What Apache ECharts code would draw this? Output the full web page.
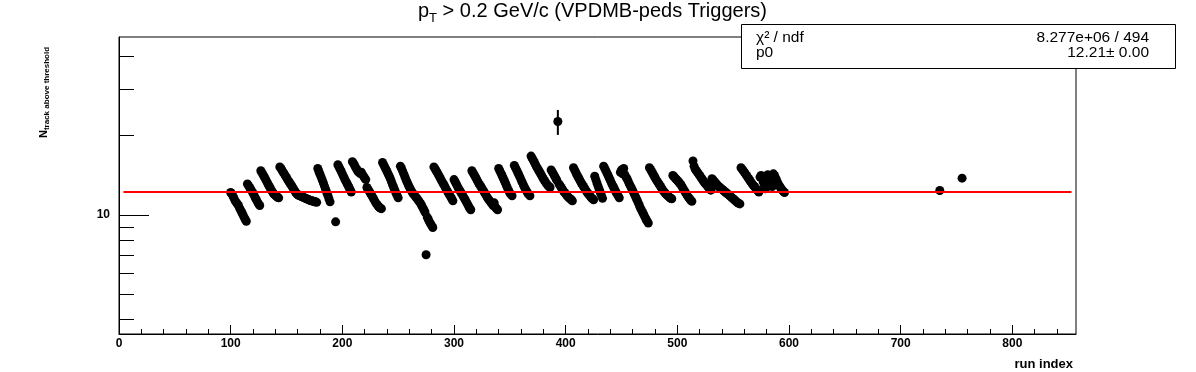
<!DOCTYPE html>
<html><head><meta charset="utf-8">
<script src="https://cdn.jsdelivr.net/npm/echarts@6/dist/echarts.min.js"></script>
<style>html,body{margin:0;padding:0;background:#fff}#c{width:1196px;height:372px}</style>
</head><body><div id="c"></div>
<script>
// ---- data ----
const runStart = 100; // nTrack[i] belongs to run index runStart + i
const nTrack = [
  // 100-114
  12.15, 12.0, 11.8, 11.55, 11.3, 11.15, 11.0, 10.85, 10.6, 10.4, 10.2, 10.0, 9.8, 9.6, 9.45,
  // 115-126
  13.1, 12.9, 12.7, 12.5, 12.3, 12.1, 11.85, 11.6, 11.4, 11.2, 11.0, 10.85,
  // 127-143
  14.7, 14.45, 14.2, 13.95, 13.7, 13.45, 13.2, 12.95, 12.75, 12.5, 12.3, 12.1, 11.95, 11.85, 11.75, 11.65, 11.6,
  // 144-160
  15.2, 15.0, 14.75, 14.5, 14.3, 14.05, 13.85, 13.6, 13.4, 13.2, 13.0, 12.8, 12.6, 12.4, 12.2, 12.05, 11.9,
  // 161-177
  11.85, 11.8, 11.75, 11.7, 11.65, 11.6, 11.55, 11.5, 11.45, 11.4, 11.35, 11.3, 11.3, 11.25, 11.2, 11.2, 11.15,
  // 178-189
  15.0, 14.6, 14.25, 13.9, 13.55, 13.2, 12.85, 12.5, 12.15, 11.85, 11.5, 11.2,
  // 190-195
  null, null, null, null, 9.4, null,
  // 196-208
  15.5, 15.2, 14.9, 14.6, 14.3, 14.0, 13.7, 13.45, 13.2, 12.95, 12.7, 12.45, 12.2,
  // 209-221
  15.9, 15.7, 15.4, 15.1, 14.85, 14.6, 14.5, 14.35, 14.5, 14.2, 14.0, 13.8, 13.6,
  // 222-235
  12.7, 12.5, 12.3, 12.1, 11.9, 11.7, 11.5, 11.3, 11.1, 10.95, 10.8, 10.7, 10.6, 10.55,
  // 236-250
  15.8, 15.5, 15.2, 14.9, 14.6, 14.3, 14.0, 13.7, 13.35, 13.0, 12.7, 12.4, 12.1, 11.85, 11.6,
  // 251
  null,
  // 252-281
  15.3, 15.0, 14.65, 14.3, 13.95, 13.6, 13.3, 13.0, 12.75, 12.5, 12.3, 12.1, 11.95, 11.8, 11.65,
  11.5, 11.35, 11.2, 11.05, 10.85, 10.65, 10.45, 10.25, 7.05, 9.8, 9.6, 9.4, 9.25, 9.1, 8.95,
  // 282-299
  15.2, 14.95, 14.7, 14.45, 14.2, 13.95, 13.7, 13.45, 13.2, 13.0, 12.75, 12.5, 12.3, 12.1, 11.9, 11.7, 11.5, 11.3,
  // 300-315
  13.6, 13.35, 13.1, 12.85, 12.6, 12.4, 12.2, 12.0, 11.8, 11.6, 11.4, 11.2, 11.0, 10.8, 10.6, 10.45,
  // 316-339
  14.7, 14.45, 14.2, 13.95, 13.7, 13.45, 13.2, 13.0, 12.8, 12.6, 12.4, 12.2, 12.0, 11.8, 11.6, 11.45,
  11.3, 11.15, 11.0, 10.85, 11.1, 10.7, 10.55, 10.45,
  // 340-352
  15.0, 14.7, 14.4, 14.1, 13.8, 13.5, 13.2, 12.9, 12.6, 12.35, 12.1, 11.95, 11.8,
  // 353
  null,
  // 354-368
  15.4, 15.1, 14.8, 14.5, 14.2, 13.9, 13.6, 13.3, 13.0, 12.75, 12.5, 12.3, 12.1, 11.95, 11.8,
  // 369-386
  16.7, 16.4, 16.1, 15.8, 15.5, 15.2, 14.95, 14.7, 14.45, 14.2, 13.95, 13.7, 13.5, 13.3, 13.1, 12.95, 12.8, 12.7,
  // 387-406
  14.8, 14.55, 14.3, 14.05, 13.8, 13.55, 22.6, 13.1, 12.9, 12.7, 12.5, 12.3, 12.15, 12.0, 11.85, 11.7, 11.6, 11.5, 11.4, 11.3,
  // 407-425
  15.1, 14.8, 14.5, 14.2, 13.95, 13.7, 13.45, 13.2, 13.0, 12.8, 12.6, 12.4, 12.2, 12.05, 11.9, 11.75, 11.6, 11.5, 11.4,
  // 426-433
  14.0, 13.6, 13.2, 12.85, 12.5, 12.15, 11.85, 11.55,
  // 434-448
  15.3, 15.0, 14.7, 14.4, 14.1, 13.8, 13.5, 13.2, 12.95, 12.7, 12.45, 12.2, 12.0, 11.8, 11.6,
  // 449-454
  14.5, 14.8, 14.3, 15.0, 14.2, 13.9,
  // 455-474
  13.7, 13.4, 13.1, 12.85, 12.6, 12.35, 12.1, 11.85, 11.6, 11.35, 11.1, 10.85, 10.6, 10.4, 10.2, 10.0, 9.8, 9.6, 9.45, 9.3,
  // 475-495
  15.1, 14.85, 14.6, 14.35, 14.1, 13.85, 13.6, 13.4, 13.2, 13.0, 12.8, 12.6, 12.4, 12.25, 12.1, 11.95, 11.85, 11.75, 11.65, 11.55, 11.5,
  // 496-513
  14.1, 13.95, 13.8, 13.65, 13.5, 13.35, 13.2, 13.05, 12.85, 12.6, 12.4, 12.2, 12.0, 11.8, 11.65, 11.5, 11.35, 11.25,
  // 514-530
  16.0, 15.3, 14.9, 14.7, 14.5, 14.3, 14.1, 13.9, 13.7, 13.5, 13.3, 13.15, 13.0, 12.85, 12.7, 12.55, 12.4,
  // 531-556
  13.7, 13.55, 13.4, 13.25, 13.1, 12.95, 12.8, 12.7, 12.6, 12.5, 12.4, 12.3, 12.2, 12.1, 12.0, 11.9, 11.8,
  11.7, 11.6, 11.5, 11.4, 11.3, 11.2, 11.1, 11.05, 11.0,
  // 557-573
  15.1, 14.9, 14.7, 14.5, 14.3, 14.1, 13.9, 13.7, 13.5, 13.3, 13.1, 12.95, 12.8, 12.65, 12.5, 12.35, 12.2,
  // 574-596
  13.9, 14.1, 13.7, 13.3, 12.9, 12.55, 13.9, 14.2, 13.9, 13.5, 13.1, 12.8, 14.3, 14.1, 13.8, 13.5, 13.2,
  12.95, 12.75, 12.55, 12.4, 12.25, 12.15
];
const extraRuns = [735, 755];
const extraVals = [12.36, 13.77];
const errRuns = [393];
const errLow = [20.1];
const errHigh = [25.0];
const fitP0 = 12.21;
const fitRange = [4, 853];
const xMajorTicks = [0, 100, 200, 300, 400, 500, 600, 700, 800];
const xMinorTicks = [20, 40, 60, 80, 120, 140, 160, 180, 220, 240, 260, 280, 320, 340, 360, 380,
  420, 440, 460, 480, 520, 540, 560, 580, 620, 640, 660, 680, 720, 740, 760, 780, 820, 840];
const yMajorTicks = [10];
const yMinorTicks = [4, 5, 6, 7, 8, 9, 20, 30, 40];
const statNames = ['\u03c7\u00b2 / ndf', 'p0'];
const statValues = ['8.277e+06 / 494', '12.21\u00b1 0.00'];

// ---- build ----
const pts = [];
nTrack.forEach((v, i) => { if (v !== null) pts.push([runStart + i, v]); });
extraRuns.forEach((r, i) => pts.push([r, extraVals[i]]));
const errData = [];
errRuns.forEach((r, i) => { errData.push([r, errLow[i]], [r, errHigh[i]], null); });

const FONT = "'Liberation Sans', Arial, Helvetica, sans-serif";
const X_MIN = 0, X_MAX = 857, Y_MIN = 3.528, Y_MAX = 47.3;

const chart = echarts.init(document.getElementById('c'), null, {renderer: 'canvas'});
chart.setOption({
  animation: false,
  backgroundColor: '#fff',
  title: {
    left: 418, top: 1, padding: 0,
    text: '{a|p}{b|T}{a| > 0.2 GeV/c (VPDMB-peds Triggers)}',
    textStyle: {
      fontWeight: 'normal',
      rich: {
        a: {fontSize: 20, fontWeight: 'normal', fontFamily: FONT, color: '#000', verticalAlign: 'top', lineHeight: 23},
        b: {fontSize: 13, fontWeight: 'normal', fontFamily: FONT, color: '#000', verticalAlign: 'top', lineHeight: 14, padding: [11, 0, 0, 0]}
      }
    }
  },
  grid: {left: 119, right: 120, top: 37, bottom: 38, show: true, borderColor: '#000', borderWidth: 1,
         containLabel: false, outerBoundsMode: 'none'},
  xAxis: [
    {type: 'value', min: X_MIN, max: X_MAX, position: 'bottom',
     axisLine: {show: true, onZero: false, lineStyle: {color: '#000', width: 1}},
     axisTick: {show: true, inside: true, length: 9, customValues: xMajorTicks, lineStyle: {color: '#000', width: 1}},
     axisLabel: {show: true, customValues: xMajorTicks, margin: 4, color: '#000', fontSize: 12, fontWeight: 'bold', fontFamily: FONT},
     splitLine: {show: false}},
    {type: 'value', min: X_MIN, max: X_MAX, position: 'bottom',
     axisLine: {show: false, onZero: false},
     axisTick: {show: true, inside: true, length: 5, customValues: xMinorTicks, lineStyle: {color: '#000', width: 1}},
     axisLabel: {show: false}, splitLine: {show: false}}
  ],
  yAxis: [
    {type: 'log', logBase: 10, min: Y_MIN, max: Y_MAX, position: 'left',
     axisLine: {show: true, onZero: false, lineStyle: {color: '#000', width: 1}},
     axisTick: {show: true, inside: true, length: 30, customValues: yMajorTicks, lineStyle: {color: '#000', width: 1}},
     axisLabel: {show: true, customValues: yMajorTicks, margin: 9, color: '#000', fontSize: 12, fontWeight: 'bold', fontFamily: FONT},
     splitLine: {show: false}},
    {type: 'log', logBase: 10, min: Y_MIN, max: Y_MAX, position: 'left',
     axisLine: {show: false, onZero: false},
     axisTick: {show: true, inside: true, length: 15, customValues: yMinorTicks, lineStyle: {color: '#000', width: 1}},
     axisLabel: {show: false}, splitLine: {show: false}}
  ],
  series: [
    {type: 'scatter', name: 'runs', xAxisIndex: 0, yAxisIndex: 0, data: pts,
     symbol: 'circle', symbolSize: 9, itemStyle: {color: '#000', opacity: 1}, z: 3, silent: true},
    {type: 'line', name: 'err', xAxisIndex: 0, yAxisIndex: 0, data: errData, connectNulls: false,
     symbol: 'none', lineStyle: {color: '#000', width: 2}, z: 3, silent: true},
    {type: 'line', name: 'fit', xAxisIndex: 0, yAxisIndex: 0,
     data: [[fitRange[0], fitP0], [fitRange[1], fitP0]],
     symbol: 'none', lineStyle: {color: '#ff0000', width: 2}, z: 4, silent: true}
  ],
  graphic: [
    {type: 'text', x: 1073, y: 358, z: 10,
     style: {text: 'run index', fill: '#000', font: 'bold 13px ' + FONT, align: 'right', verticalAlign: 'top'}},
    {type: 'text', x: 50, y: 138, rotation: Math.PI / 2, z: 10,
     style: {text: '{n|N}{s|track above threshold}', align: 'left', verticalAlign: 'bottom',
       rich: {
         n: {fontSize: 11, fontWeight: 'bold', fontFamily: FONT, fill: '#000', verticalAlign: 'top', lineHeight: 12},
         s: {fontSize: 8, fontWeight: 'bold', fontFamily: FONT, fill: '#000', verticalAlign: 'top', lineHeight: 9, padding: [5, 0, 0, 0]}
       }}},
    {type: 'rect', z: 20, shape: {x: 741.5, y: 24.5, width: 434, height: 44},
     style: {fill: '#fff', stroke: '#000', lineWidth: 1}},
    {type: 'text', z: 21, x: 756, y: 38, style: {text: statNames[0], fill: '#000', font: '15.5px ' + FONT, align: 'left', verticalAlign: 'middle'}},
    {type: 'text', z: 21, x: 1149, y: 38, style: {text: statValues[0], fill: '#000', font: '15.5px ' + FONT, align: 'right', verticalAlign: 'middle'}},
    {type: 'text', z: 21, x: 756, y: 53, style: {text: statNames[1], fill: '#000', font: '15.5px ' + FONT, align: 'left', verticalAlign: 'middle'}},
    {type: 'text', z: 21, x: 1149, y: 53, style: {text: statValues[1], fill: '#000', font: '15.5px ' + FONT, align: 'right', verticalAlign: 'middle'}}
  ]
});
</script>
</body></html>
